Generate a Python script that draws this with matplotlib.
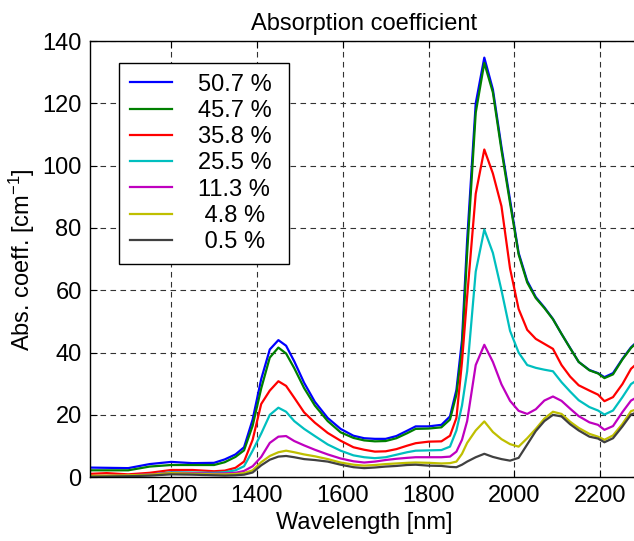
import matplotlib
matplotlib.use("Agg")
import matplotlib.pyplot as plt

# wavelength grid [nm]
wavelength = [1000, 1050, 1100, 1150, 1200, 1250, 1300, 1325, 1350, 1370,
              1390, 1410, 1430, 1450, 1468, 1487, 1510, 1535, 1565, 1595,
              1625, 1650, 1675, 1700, 1725, 1750, 1770, 1800, 1830, 1850,
              1865, 1878, 1890, 1910, 1930, 1950, 1970, 1990, 2010, 2030,
              2050, 2070, 2090, 2110, 2130, 2150, 2175, 2195, 2210, 2230,
              2252, 2272, 2290]

abs_507 = [3.1, 3.0, 2.9, 4.2, 4.9, 4.5, 4.6, 5.7, 7.3, 9.6,
           18.5, 31.5, 41.0, 44.0, 42.2, 37.2, 30.3, 24.2, 19.0, 15.5,
           13.3, 12.5, 12.3, 12.3, 13.2, 14.9, 16.3, 16.3, 16.8, 19.5,
           28.0, 44.0, 76.0, 120.0, 134.7, 124.5, 106.0, 89.0, 72.0, 63.0,
           57.8, 54.5, 50.8, 46.0, 41.5, 37.0, 34.4, 33.4, 32.1, 33.4,
           38.0, 41.7, 44.0]
abs_457 = [2.2, 2.2, 2.2, 3.4, 3.9, 3.9, 3.9, 4.8, 6.5, 8.6,
           16.5, 28.5, 38.4, 41.6, 39.7, 35.0, 28.6, 23.0, 18.0, 14.4,
           12.6, 11.8, 11.5, 11.6, 12.5, 14.1, 15.5, 15.6, 16.0, 18.5,
           26.5, 41.0, 72.0, 117.0, 133.0, 123.5, 105.0, 88.0, 71.5, 62.5,
           57.5, 54.3, 50.7, 46.0, 41.4, 37.0, 34.3, 33.3, 31.8, 33.0,
           37.8, 41.5, 43.8]
abs_358 = [1.0, 1.3, 0.9, 1.4, 2.3, 2.3, 1.9, 2.1, 3.0, 5.0,
           12.0, 23.5, 27.8, 30.8, 29.3, 25.5, 20.8, 17.5, 14.2, 11.7,
           9.6, 8.8, 8.2, 8.3, 9.0, 10.1, 10.9, 11.4, 11.5, 13.3,
           19.0, 37.0, 58.0, 91.0, 105.2, 97.5, 87.0, 67.0, 54.0, 47.3,
           44.4, 42.8, 41.2, 36.0, 32.3, 29.5, 27.8, 26.5, 24.4, 25.7,
           29.9, 34.8, 37.0]
abs_255 = [0.2, 0.2, 0.3, 0.8, 1.6, 1.5, 1.4, 1.6, 2.2, 3.5,
           8.5, 14.0, 20.0, 22.3, 21.0, 18.0, 15.5, 13.2, 10.5, 8.5,
           7.0, 6.4, 6.1, 6.4, 7.2, 8.0, 8.5, 8.6, 8.7, 9.8,
           15.0, 23.0, 34.0, 66.0, 79.5, 72.0, 60.0, 47.0, 40.0, 36.0,
           35.1, 34.5, 34.0, 30.5, 27.5, 24.7, 22.5, 21.4, 20.1, 21.4,
           25.7, 29.9, 31.5]
abs_113 = [0.3, 0.4, 0.6, 0.9, 1.4, 1.3, 1.1, 1.2, 1.4, 2.0,
           3.5, 6.5, 11.0, 13.0, 13.2, 11.6, 10.2, 8.8, 7.3, 6.0,
           5.1, 4.7, 5.0, 5.5, 5.9, 6.2, 6.4, 6.4, 6.4, 6.6,
           8.2, 12.0, 18.0, 36.0, 42.5, 37.0, 29.8, 24.5, 21.3, 20.3,
           21.8, 24.6, 25.9, 24.5, 22.0, 19.6, 17.6, 16.8, 15.2, 16.4,
           20.9, 24.6, 26.0]
abs_48 = [0.4, 0.5, 0.6, 0.8, 1.3, 1.1, 0.9, 0.9, 1.0, 1.3,
          2.2, 4.8, 6.8, 8.0, 8.5, 8.0, 7.3, 6.7, 5.8, 4.7,
          4.0, 3.7, 3.9, 4.2, 4.4, 4.6, 4.7, 4.6, 4.4, 4.5,
          5.0, 7.5, 11.0, 15.0, 17.9, 14.5, 12.2, 10.6, 9.8, 12.5,
          15.5, 18.8, 21.0, 20.3, 17.8, 15.8, 13.9, 13.0, 12.0, 13.4,
          17.1, 21.2, 22.0]
abs_05 = [0.1, 0.2, 0.3, 0.5, 0.9, 0.8, 0.6, 0.5, 0.6, 0.8,
          1.5, 3.8, 5.6, 6.6, 6.8, 6.4, 5.8, 5.5, 5.0, 4.0,
          3.2, 2.9, 3.1, 3.4, 3.6, 3.9, 4.0, 3.7, 3.6, 3.3,
          3.2, 4.0, 5.0, 6.4, 7.5, 6.5, 5.8, 5.3, 6.2, 10.5,
          14.8, 18.0, 20.0, 19.5, 17.0, 15.0, 13.0, 12.4, 11.2, 12.5,
          16.3, 20.1, 21.0]

series = [abs_507, abs_457, abs_358, abs_255, abs_113, abs_48, abs_05]
labels = ['50.7 % ', '45.7 % ', '35.8 % ', '25.5 % ', '11.3 % ', ' 4.8 % ', ' 0.5 % ']
colors = ['#0000ff', '#008000', '#ff0000', '#00bfbf', '#bf00bf', '#bfbf00', '#404040']

plt.rcParams['font.family'] = ['Liberation Sans', 'DejaVu Sans']
plt.rcParams['font.size'] = 17
plt.rcParams['mathtext.default'] = 'regular'

fig = plt.figure(figsize=(6.34, 5.41), dpi=100)
# axes runs slightly past the right edge (reference is cropped there)
ax = fig.add_axes([0.142, 0.118, 0.8655, 0.806])

for y, lab, c in zip(series, labels, colors):
    ax.plot(wavelength, y, color=c, lw=1.6, label=lab)

ax.set_xlim(1011, 2290)
ax.set_ylim(0, 140)
ax.set_xticks([1200, 1400, 1600, 1800, 2000, 2200])
ax.set_yticks(range(0, 141, 20))
ax.grid(True, color='0.2', linestyle=(0, (5, 4)), linewidth=0.8)
ax.tick_params(direction='in', top=True, right=True, length=5, width=0.8, pad=6)
for s in ax.spines.values():
    s.set_linewidth(1.0)
ax.spines['right'].set_visible(False)

ax.set_title('Absorption coefficient', fontsize=17, pad=8)
ax.set_xlabel('Wavelength [nm]', labelpad=3)
ax.set_ylabel('Abs. coeff. [cm$^{-1}$]', labelpad=4)

leg = ax.legend(loc='upper left', bbox_to_anchor=(0.053, 0.950), borderaxespad=0,
                fancybox=False, framealpha=1, edgecolor='black',
                handlelength=1.8, handletextpad=1.1, labelspacing=0.18,
                borderpad=0.45, fontsize=17)
leg.get_frame().set_linewidth(1.0)

fig.savefig('out.png', dpi=100)
